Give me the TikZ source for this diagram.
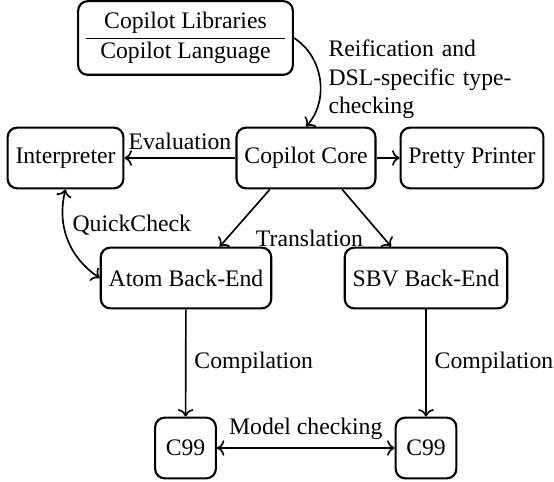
\documentclass[tikz,border=0pt]{standalone}
\usepackage{fontspec}
\setmainfont{Liberation Serif}
\usepackage{tikz}
\usetikzlibrary{arrows.meta}
\usetikzlibrary{calc}

\tikzset{
	block/.style={draw,line width=0.9pt,rounded corners,minimum height=0.9cm},
	flow/.style={line width=0.7pt,->}
}

\begin{document}
\begin{tikzpicture}[x=0.422pt,y=0.422pt]
\useasboundingbox (0,0) rectangle (554,481);

\node[block] (lang) at (185.5,443) {\begin{tabular}{c}Copilot Libraries\\\hline Copilot Language\end{tabular}};
\node[block] (core) at (306,323) {Copilot Core};
\node[block] (interp) at (65.5,323) {Interpreter};
\node[block] (pretty) at (472,323) {Pretty Printer};
\node[block] (atom) at (186,203) {Atom Back-End};
\node[block] (sbv) at (426,203) {SBV Back-End};
\foreach \n/\x in {ca/185.5,cb/426}
	\node[block,minimum width=0.9cm] (\n) at (\x,33) {C99};
\node (trans) at (309.5,243) {Translation};

\draw [flow] (lang.east) to [bend left=50] node[anchor=west,text width=78pt,align=left] {Reification and DSL-specific type-checking} (core.north);

\draw [flow] (core) -- node[above] {Evaluation} (interp);
\draw [flow] (core) -- (pretty);
\draw [flow,<->] (interp.south) to [bend right=35] node[right,pos=0.35] {QuickCheck} (atom.west);

\draw [flow] (core.221) -- (atom.43);
\draw [flow] (core.319) -- (sbv.138);

\foreach \a/\b in {atom/ca,sbv/cb}
	\draw [flow] (\a) -- node[right] {Compilation} (\b);
\draw [flow,<->] (ca) -- node[above] {Model checking} (cb);
\end{tikzpicture}
\end{document}
